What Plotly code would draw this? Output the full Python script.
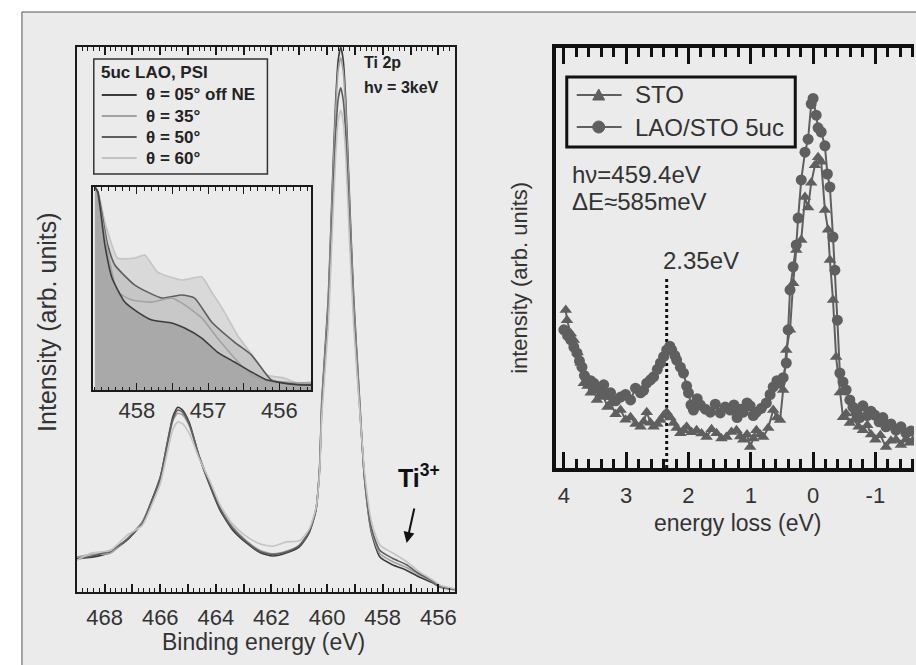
import plotly.graph_objects as go

W, H = 916, 665
FONT = "Liberation Sans"

# ---------------- Left panel: Ti 2p core level ----------------
be = [469.0, 468.45, 467.8, 467.2, 466.65, 466.3, 466.0, 465.75, 465.55, 465.37,
      465.2, 464.95, 464.6, 464.2, 463.85, 463.4, 462.9, 462.4, 461.95, 461.45,
      461.0, 460.65, 460.4, 460.27, 460.19, 459.96, 459.83, 459.69, 459.6, 459.51,
      459.42, 459.33, 459.19, 459.04, 458.83, 458.65, 458.4, 458.1, 457.65, 457.15,
      456.7, 456.2, 455.95, 455.4]
ti2p_05 = [6.2, 6.4, 7.3, 9.5, 12.7, 16.9, 21.1, 27.3, 32.1, 33.9,
           33.4, 31.0, 24.8, 19.3, 15.0, 11.4, 9.0, 7.2, 6.6, 7.2,
           8.3, 10.8, 15.0, 22.9, 35.2, 53.6, 71.9, 90.3, 97.6, 100.0,
           97.6, 90.3, 71.9, 53.6, 35.2, 20.6, 10.8, 6.4, 5.0, 4.0,
           2.8, 1.7, 0.9, 0.4]
ti2p_35 = [6.4, 6.9, 7.1, 9.8, 12.9, 16.6, 20.7, 26.8, 31.4, 32.8,
           32.5, 30.4, 24.9, 19.8, 15.6, 12.0, 9.4, 7.6, 7.0, 7.5,
           8.6, 11.1, 15.3, 22.6, 34.5, 52.5, 70.5, 88.5, 95.8, 98.0,
           95.6, 88.5, 70.5, 52.5, 34.8, 20.5, 11.2, 7.0, 5.6, 4.5,
           3.2, 1.9, 1.0, 0.5]
ti2p_50 = [6.0, 6.6, 7.6, 9.6, 12.6, 16.7, 20.8, 27.0, 31.6, 33.4,
           33.0, 30.7, 24.9, 19.6, 15.3, 11.7, 9.2, 7.4, 6.9, 7.4,
           8.5, 11.0, 15.2, 22.5, 33.5, 50.5, 67.0, 84.0, 90.5, 92.5,
           90.3, 84.0, 67.0, 50.5, 34.0, 20.8, 11.6, 7.6, 6.2, 5.0,
           3.4, 2.0, 1.1, 0.5]
ti2p_60 = [5.8, 7.2, 7.6, 10.4, 12.2, 16.0, 19.8, 25.5, 29.8, 31.2,
           30.9, 29.0, 24.5, 20.2, 16.0, 12.5, 10.2, 8.8, 8.4, 9.2,
           9.4, 11.5, 15.4, 22.0, 32.5, 48.5, 64.0, 80.0, 86.5, 88.4,
           86.3, 80.0, 64.0, 48.5, 33.5, 21.8, 12.8, 8.6, 7.2, 5.6,
           3.8, 2.2, 1.3, 0.6]
angle_names = ["θ = 05° off NE", "θ = 35°", "θ = 50°", "θ = 60°"]
angle_colors = ["#3c3c3c", "#a2a2a2", "#5e5e5e", "#c4c4c4"]
left_legend_title = "5uc LAO, PSI"

# ---------------- Inset: Ti3+ region ----------------
ins_e_05 = [458.59, 458.55, 458.45, 458.35, 458.17, 457.99, 457.79, 457.51, 457.33,
            457.09, 456.87, 456.63, 456.39, 456.17, 455.93, 455.69, 455.55]
ins_i_05 = [100, 97.5, 71.4, 55.2, 43.3, 38.4, 34.5, 33.0, 30.5,
            25.6, 18.7, 13.8, 8.9, 4.9, 3.4, 2.5, 2.5]
ins_e_35 = [458.59, 458.55, 458.41, 458.27, 458.07, 457.79, 457.51, 457.33, 457.09,
            456.87, 456.63, 456.39, 456.21, 455.93, 455.55]
ins_i_35 = [100, 96.1, 68.0, 48.3, 44.3, 43.3, 45.3, 41.9, 35.5,
            25.6, 15.8, 7.4, 4.9, 3.9, 3.4]
ins_e_50 = [458.59, 458.55, 458.41, 458.31, 458.03, 457.65, 457.37, 457.19, 456.95,
            456.63, 456.39, 456.25, 456.11, 455.93, 455.55]
ins_i_50 = [100, 97.5, 71.4, 61.6, 51.7, 45.3, 46.8, 45.3, 33.5,
            23.6, 17.2, 10.8, 4.9, 3.4, 2.5]
ins_e_60 = [458.59, 458.55, 458.45, 458.27, 458.03, 457.89, 457.71, 457.37, 457.09,
            456.95, 456.77, 456.59, 456.35, 456.17, 455.93, 455.75, 455.55]
ins_i_60 = [100, 98.5, 82.8, 65.0, 65.0, 66.5, 58.1, 54.2, 55.7,
            48.3, 38.4, 27.1, 15.8, 7.4, 5.9, 3.4, 3.9]

# ---------------- Right panel: RIXS energy loss ----------------
sto_loss = [3.97, 3.95, 3.89, 3.84, 3.78, 3.73, 3.68, 3.62, 3.57, 3.52, 3.47, 3.41, 3.36,
            3.30, 3.25, 3.17, 3.09, 3.01, 2.93, 2.85, 2.77, 2.72, 2.67, 2.61, 2.56, 2.50,
            2.45, 2.40, 2.35, 2.29, 2.24, 2.19, 2.13, 2.08, 2.03, 1.95, 1.87, 1.79, 1.71,
            1.63, 1.55, 1.47, 1.39, 1.31, 1.23, 1.17, 1.12, 1.06, 1.01, 0.96, 0.91, 0.85,
            0.80, 0.72, 0.64, 0.58, 0.53, 0.48, 0.43, 0.37, 0.32, 0.27, 0.19, 0.13, 0.08,
            0.03, -0.03, -0.08, -0.13, -0.19, -0.24, -0.27, -0.32, -0.37, -0.43, -0.48,
            -0.53, -0.59, -0.66, -0.73, -0.80, -0.87, -0.93, -1.00, -1.08, -1.17, -1.25,
            -1.33, -1.41, -1.49, -1.55, -1.60]
sto_int = [37.6, 35.2, 32.0, 30.5, 27.5, 25.0, 20.2, 19.5, 17.9, 19.0, 16.2, 17.5, 16.9,
           14.5, 15.5, 12.8, 13.8, 11.5, 12.1, 10.5, 9.8, 11.0, 13.3, 10.8, 9.8, 10.5,
           11.4, 12.5, 13.3, 12.0, 10.7, 9.5, 8.3, 9.0, 9.8, 8.5, 9.0, 8.2, 7.4,
           9.2, 8.3, 7.0, 7.4, 8.6, 9.0, 7.5, 6.7, 8.0, 5.0, 7.0, 9.0, 8.0,
           7.4, 9.5, 13.8, 12.0, 11.4, 18.6, 28.1, 32.9, 44.0, 51.9, 54.3, 64.5, 62.0,
           67.9, 72.1, 74.0, 72.9, 61.4, 56.7, 49.5, 40.0, 26.4, 18.0, 12.1,
           13.0, 10.7, 11.5, 9.8, 9.0, 10.2, 8.0, 6.7, 7.8, 5.0, 6.5,
           6.7, 5.5, 6.8, 6.0, 6.5]
lao_loss = [4.00, 3.94, 3.89, 3.84, 3.79, 3.75, 3.71, 3.67, 3.63, 3.57, 3.52, 3.46, 3.41,
            3.36, 3.30, 3.25, 3.17, 3.09, 3.01, 2.93, 2.85, 2.77, 2.72, 2.67, 2.61, 2.56,
            2.50, 2.45, 2.40, 2.35, 2.30, 2.27, 2.22, 2.19, 2.13, 2.08, 2.03, 2.00, 1.96,
            1.92, 1.86, 1.81, 1.73, 1.65, 1.57, 1.49, 1.41, 1.33, 1.27, 1.22, 1.17, 1.12,
            1.06, 1.01, 0.96, 0.91, 0.83, 0.75, 0.69, 0.64, 0.58, 0.53, 0.48, 0.43, 0.40,
            0.37, 0.32, 0.27, 0.24, 0.19, 0.13, 0.08, 0.03, 0.00, -0.05, -0.08, -0.13,
            -0.19, -0.23, -0.27, -0.32, -0.35, -0.39, -0.43, -0.48, -0.53, -0.59, -0.64,
            -0.69, -0.75, -0.80, -0.87, -0.93, -0.99, -1.06, -1.12, -1.17, -1.25, -1.33,
            -1.41, -1.49, -1.57]
lao_int = [32.9, 31.5, 30.5, 28.8, 27.4, 25.5, 24.0, 22.0, 21.0, 20.8, 20.2, 19.0, 18.6,
           19.8, 17.5, 17.9, 16.0, 16.9, 17.5, 16.2, 19.0, 17.9, 18.5, 20.2, 21.0, 21.7,
           23.5, 25.0, 26.5, 28.1, 29.0, 28.1, 26.8, 25.7, 24.0, 22.6, 19.5, 17.9, 15.0,
           13.8, 16.5, 15.0, 14.0, 13.3, 15.2, 13.1, 14.5, 13.8, 15.0, 12.0, 14.0, 13.3,
           15.5, 14.8, 12.5, 13.3, 14.2, 15.5, 17.5, 19.3, 20.8, 20.2, 21.5, 25.0, 32.9,
           42.4, 47.9, 53.1, 59.5, 68.6, 75.2, 78.3, 86.7, 88.0, 84.0, 81.0, 80.0,
           76.7, 70.0, 66.9, 55.0, 47.1, 35.2, 22.6, 20.5, 18.6, 16.2, 14.5,
           13.1, 12.0, 14.8, 12.5, 13.5, 12.6, 11.0, 12.0, 9.8, 10.5, 9.0,
           9.8, 8.3, 8.8]
right_names = ["STO", "LAO/STO 5uc"]
peak_loss = 2.35
peak_line_top = 45.5
series_color = "#5f5f5f"


def xp(px):
    return px / W


def yp(py):
    return 1 - py / H


fig = go.Figure()

# main Ti 2p spectra
for ys, nm, col in zip([ti2p_05, ti2p_35, ti2p_50, ti2p_60], angle_names, angle_colors):
    fig.add_trace(go.Scatter(x=be, y=ys, mode="lines", name=nm, showlegend=False,
                             line=dict(color=col, width=1.6, shape="spline", smoothing=0.6),
                             xaxis="x", yaxis="y"))

# inset fills (drawn first), then lines
ins_sets = [(ins_e_60, ins_i_60, "#d9d9d9", angle_colors[3]),
            (ins_e_50, ins_i_50, "#c6c6c6", angle_colors[2]),
            (ins_e_35, ins_i_35, "#c8c8c8", angle_colors[1]),
            (ins_e_05, ins_i_05, "#a9a9a9", angle_colors[0])]
for ex, iy, fc, lc in ins_sets:
    fig.add_trace(go.Scatter(x=ex, y=iy, mode="lines", fill="tozeroy", fillcolor=fc,
                             line=dict(width=0, color=fc, shape="spline", smoothing=0.5),
                             xaxis="x2", yaxis="y2", showlegend=False, hoverinfo="skip"))
for ex, iy, fc, lc in ins_sets:
    fig.add_trace(go.Scatter(x=ex, y=iy, mode="lines",
                             line=dict(width=1.6, color=lc, shape="spline", smoothing=0.5),
                             xaxis="x2", yaxis="y2", showlegend=False))

# right panel
fig.add_trace(go.Scatter(x=[peak_loss, peak_loss], y=[0, peak_line_top], mode="lines",
                         line=dict(color="#111111", width=3, dash="dot"),
                         xaxis="x3", yaxis="y3", showlegend=False))
fig.add_trace(go.Scatter(x=sto_loss, y=sto_int, mode="lines+markers", name=right_names[0],
                         line=dict(color=series_color, width=2), showlegend=False,
                         marker=dict(symbol="triangle-up", size=11, color=series_color),
                         xaxis="x3", yaxis="y3"))
fig.add_trace(go.Scatter(x=lao_loss, y=lao_int, mode="lines+markers", name=right_names[1],
                         line=dict(color=series_color, width=2), showlegend=False,
                         marker=dict(symbol="circle", size=11, color=series_color),
                         xaxis="x3", yaxis="y3"))

axc = "#1a1a1a"
tickfont = dict(family=FONT, size=22, color="#333333")

main_vals = list(range(456, 470))
main_text = [str(v) if v % 2 == 0 else "" for v in main_vals]

shapes = [dict(type="rect", xref="paper", yref="paper", x0=xp(22), x1=1.05,
               y0=-0.05, y1=yp(12), fillcolor="#ebebeb",
               line=dict(color="#555555", width=1), layer="below")]

# ---- left legend (drawn by hand) ----
shapes.append(dict(type="rect", xref="paper", yref="paper", x0=xp(94), x1=xp(268),
                   y0=yp(174), y1=yp(59), line=dict(color="#333333", width=1.5)))
leg_rows = [95, 116, 137, 158]
for row, col in zip(leg_rows, angle_colors):
    shapes.append(dict(type="line", xref="paper", yref="paper", x0=xp(102), x1=xp(137),
                       y0=yp(row), y1=yp(row), line=dict(color=col, width=1.8)))

# ---- right legend (drawn by hand) ----
shapes.append(dict(type="rect", xref="paper", yref="paper", x0=xp(568), x1=xp(797),
                   y0=yp(147), y1=yp(77), line=dict(color="#111111", width=3)))
for row in (95, 127):
    shapes.append(dict(type="line", xref="paper", yref="paper", x0=xp(578), x1=xp(623),
                       y0=yp(row), y1=yp(row), line=dict(color=series_color, width=2)))
tri = "M {:.5f},{:.5f} L {:.5f},{:.5f} L {:.5f},{:.5f} Z".format(
    xp(594), yp(100), xp(606), yp(100), xp(600), yp(89))
shapes.append(dict(type="path", xref="paper", yref="paper", path=tri,
                   fillcolor=series_color, line=dict(color=series_color, width=1)))
shapes.append(dict(type="circle", xref="paper", yref="paper", x0=xp(594), x1=xp(606),
                   y0=yp(133), y1=yp(121), fillcolor=series_color,
                   line=dict(color=series_color, width=1)))

fig.update_layout(
    width=W, height=H,
    margin=dict(l=0, r=0, t=0, b=0),
    paper_bgcolor="white",
    plot_bgcolor="rgba(0,0,0,0)",
    font=dict(family=FONT, color="#333333"),
    showlegend=False,
    xaxis=dict(domain=[xp(77), xp(456)], anchor="y", range=[469.0, 455.4],
               tickmode="array", tickvals=main_vals, ticktext=main_text,
               ticks="inside", ticklen=8, tickwidth=1.5, tickcolor=axc,
               minor=dict(ticks="inside", ticklen=4, tickwidth=1.2, tickcolor=axc,
                          tickmode="linear", tick0=0, dtick=0.2, showgrid=False),
               showline=True, linecolor=axc, linewidth=2, mirror="ticks",
               showgrid=False, zeroline=False, tickfont=tickfont, ticklabelstandoff=5),
    yaxis=dict(domain=[yp(592), yp(47)], anchor="x", range=[0, 100],
               showticklabels=False, ticks="", showline=True, linecolor=axc,
               linewidth=2, mirror=True, showgrid=False, zeroline=False),
    xaxis2=dict(domain=[xp(93), xp(312)], anchor="y2", range=[458.62, 455.55],
                tickmode="array", tickvals=[458, 457.5, 457, 456.5, 456],
                ticktext=["458", "", "457", "", "456"],
                ticks="inside", ticklen=7, tickwidth=1.4, tickcolor=axc,
                minor=dict(ticks="inside", ticklen=3.5, tickwidth=1.1, tickcolor=axc,
                           tickmode="linear", tick0=0, dtick=0.1, showgrid=False),
                showline=True, linecolor=axc, linewidth=2, mirror="ticks",
                showgrid=False, zeroline=False, tickfont=tickfont, ticklabelstandoff=0),
    yaxis2=dict(domain=[yp(390), yp(187)], anchor="x2", range=[0, 100],
                showticklabels=False, ticks="", showline=True, linecolor=axc,
                linewidth=2, mirror=True, showgrid=False, zeroline=False),
    xaxis3=dict(domain=[xp(557), 1.0], anchor="y3", range=[4.13, -1.62],
                tickmode="array", tickvals=[4, 3, 2, 1, 0, -1],
                ticktext=["4", "3", "2", "1", "0", "-1"],
                ticks="inside", ticklen=16, tickwidth=2.5, tickcolor="#111111",
                minor=dict(ticks="inside", ticklen=9, tickwidth=2.5, tickcolor="#111111",
                           tickmode="linear", tick0=0, dtick=0.2, showgrid=False),
                showline=True, linecolor="#111111", linewidth=3.5, mirror="ticks",
                showgrid=False, zeroline=False, tickfont=tickfont, ticklabelstandoff=5),
    yaxis3=dict(domain=[yp(468), yp(48)], anchor="x3", range=[0, 100],
                showticklabels=False, ticks="", showline=True, linecolor="#111111",
                linewidth=3.5, mirror=False, showgrid=False, zeroline=False),
    shapes=shapes,
)

bold_leg = dict(size=17, weight="bold", color="#222222")
ann = [
    dict(text=left_legend_title, x=xp(99), y=yp(73), xanchor="left", yanchor="middle",
         font=bold_leg),
    dict(text="Ti 2p", x=xp(363), y=yp(63), xanchor="left", yanchor="middle",
         font=dict(size=16, weight="bold", color="#222222")),
    dict(text="hν = 3keV", x=xp(363), y=yp(87), xanchor="left", yanchor="middle",
         font=dict(size=16, weight="bold", color="#222222")),
    dict(text="<b>Ti<sup>3+</sup></b>", x=xp(397), y=yp(476), xanchor="left",
         yanchor="middle", font=dict(size=25, color="#111111")),
    dict(text="hν=459.4eV", x=xp(571), y=yp(175), xanchor="left", yanchor="middle",
         font=dict(size=24, color="#333333")),
    dict(text="ΔE≈585meV", x=xp(571), y=yp(202), xanchor="left", yanchor="middle",
         font=dict(size=24, color="#333333")),
    dict(text="2.35eV", x=xp(662), y=yp(260), xanchor="left", yanchor="middle",
         font=dict(size=24, color="#333333")),
    dict(text="Intensity (arb. units)", x=xp(47), y=yp(322), textangle=-90,
         xanchor="center", yanchor="middle", font=dict(size=25, color="#333333")),
    dict(text="intensity (arb. units)", x=xp(520), y=yp(278), textangle=-90,
         xanchor="center", yanchor="middle", font=dict(size=22, color="#333333")),
    dict(text="Binding energy (eV)", x=xp(264), y=yp(642), xanchor="center",
         yanchor="middle", font=dict(size=23, color="#333333")),
    dict(text="energy loss (eV)", x=xp(739), y=yp(523), xanchor="center",
         yanchor="middle", font=dict(size=23, color="#333333")),
]
for row, nm in zip(leg_rows, angle_names):
    ann.append(dict(text=nm, x=xp(144), y=yp(row), xanchor="left", yanchor="middle",
                    font=bold_leg))
for row, nm in zip((95, 127), right_names):
    ann.append(dict(text=nm, x=xp(634), y=yp(row), xanchor="left", yanchor="middle",
                    font=dict(size=24, color="#333333")))
for a in ann:
    a.update(xref="paper", yref="paper", showarrow=False)
    a["font"] = dict(family=FONT, **a["font"])
    fig.add_annotation(**a)

# Ti3+ arrow
fig.add_annotation(x=457.14, y=9.0, xref="x", yref="y", text="", showarrow=True,
                   ax=8, ay=-36, arrowhead=2, arrowsize=1.1, arrowwidth=2,
                   arrowcolor="#111111")

fig.write_html("out.html")
